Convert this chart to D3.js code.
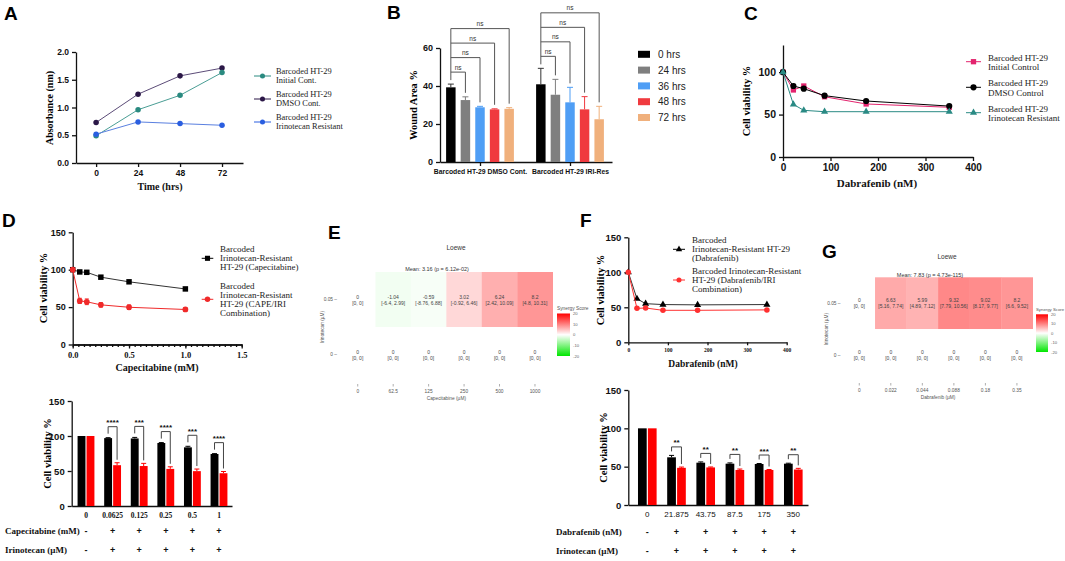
<!DOCTYPE html>
<html>
<head>
<meta charset="utf-8">
<script src="https://cdn.jsdelivr.net/npm/d3@7"></script>
<style>
  body { margin: 0; background: #fff; }
  svg { display: block; }
</style>
</head>
<body>
<script>
// --- A: absorbance over time
const timeHrs = [0, 24, 48, 72];
const absInitial = [0.49, 0.96, 1.22, 1.63];
const absDmso = [0.73, 1.24, 1.57, 1.71];
const absIri = [0.52, 0.74, 0.71, 0.68];

// --- B: wound area
const woundTimes = ["0 hrs", "24 hrs", "36 hrs", "48 hrs", "72 hrs"];
const woundGroups = ["Barcoded HT-29 DMSO Cont.", "Barcoded HT-29 IRI-Res"];
const woundDmso = [39.3, 32.6, 28.8, 27.7, 28.0];
const woundDmsoErr = [1.7, 1.7, 0.5, 0.3, 0.6];
const woundIri = [40.9, 35.4, 31.4, 27.7, 22.5];
const woundIriErr = [8.4, 8.1, 7.9, 6.7, 6.8];

// --- C: dabrafenib dose response
const dabNM = [0, 21.875, 43.75, 87.5, 175, 350];
const cInitial = [100, 79, 83.7, 71, 62.5, 58.6];
const cDmso = [100, 83.7, 80.5, 72.3, 66, 60];
const cDmsoErr = [0, 2, 1.5, 1, 0.8, 0.8];
const cIri = [100, 62, 55, 53.4, 53.4, 53.4];

// --- D: capecitabine
const capeMM = [0, 0.0625, 0.125, 0.25, 0.5, 1];
const capeLabels = ["0", "0.0625", "0.125", "0.25", "0.5", "1"];
const capeAlone = [100, 97, 96.5, 90, 83.8, 74.3];
const capeAloneErr = [0, 0.6, 1.5, 0.6, 1.5, 0.5];
const capeCombo = [100, 58.3, 57.1, 53, 49.8, 46.8];
const capeComboErr = [0, 3.5, 3.8, 3, 3, 2.5];
const capeStars = ["****", "***", "****", "***", "****"];

// --- F: dabrafenib on resistant cells
const dabLabels = ["0", "21.875", "43.75", "87.5", "175", "350"];
const dabAlone = [100, 62.2, 55.2, 53.9, 53.5, 53.9];
const dabAloneErr = [0, 2.5, 1, 1, 0.6, 0.6];
const dabCombo = [100, 48.5, 49, 45.7, 45.7, 46.3];
const dabComboErr = [0, 1, 0.6, 1.2, 0.6, 1.5];
const dabStars = ["**", "**", "**", "***", "**"];

// --- E / G: Loewe synergy
const eConc = ["0", "62.5", "125", "250", "500", "1000"];
const eScores = [0, -1.04, -0.59, 3.02, 6.24, 8.2];
const eCI = ["[0, 0]", "[-6.4, 2.99]", "[-8.76, 6.88]", "[-0.92, 6.46]", "[2.42, 10.09]", "[4.8, 10.31]"];
const gConc = ["0", "0.022", "0.044", "0.088", "0.18", "0.35"];
const gScores = [0, 6.63, 5.99, 9.32, 9.02, 8.2];
const gCI = ["[0, 0]", "[5.16, 7.74]", "[4.89, 7.12]", "[7.79, 10.56]", "[8.17, 9.77]", "[6.6, 9.52]"];
const irinoRows = ["0.05", "0"];

const SANS = "'Liberation Sans', Arial, sans-serif";
const SERIF = "'Liberation Serif', 'Times New Roman', serif";

const svg = d3.select("body").append("svg")
    .attr("width", 1065)
    .attr("height", 561)
    .attr("font-family", SANS);

function panelLabel(t, x, y) {
    svg.append("text").attr("x", x).attr("y", y).text(t)
        .attr("font-size", 19).attr("font-weight", "bold");
}

function drawAxis(axis, tx, ty, o) {
    o = o || {};
    const g = svg.append("g").attr("transform", `translate(${tx},${ty})`).call(axis);
    g.selectAll("path, line").attr("stroke", "#111").attr("stroke-width", o.sw || 1.3);
    g.selectAll("text")
        .attr("font-family", o.family || SANS)
        .attr("font-size", o.size || 9)
        .attr("font-weight", o.weight || "bold")
        .attr("fill", "#111");
    return g;
}

function baseline(x0, x1, y) {
    drawAxis(d3.axisBottom(d3.scaleLinear().range([x0, x1])).tickValues([]).tickSizeOuter(0), 0, y);
}

function text(t, x, y, o) {
    o = o || {};
    return svg.append("text").attr("x", x).attr("y", y).text(t)
        .attr("font-family", o.family || SANS)
        .attr("font-size", o.size || 9)
        .attr("font-weight", o.weight || "normal")
        .attr("text-anchor", o.anchor || "start")
        .attr("fill", o.fill || "#111");
}

function yTitle(t, x, y, size) {
    svg.append("text").attr("transform", `translate(${x},${y}) rotate(-90)`)
        .attr("text-anchor", "middle").attr("font-family", SERIF)
        .attr("font-weight", "bold").attr("font-size", size || 10.5).text(t);
}

function series(xs, ys, errs, xs_, ys_, color, sym, symSize, lineColor) {
    const pts = xs.map((x, i) => ({ x: x, y: ys[i], e: errs ? errs[i] : 0 }));
    svg.append("path").datum(pts)
        .attr("d", d3.line().x(d => xs_(d.x)).y(d => ys_(d.y)))
        .attr("fill", "none").attr("stroke", lineColor || color).attr("stroke-width", 1);
    const eg = svg.append("g").attr("stroke", color).attr("stroke-width", 1);
    pts.filter(d => d.e > 0).forEach(d => {
        const cx = xs_(d.x);
        eg.append("line").attr("x1", cx).attr("x2", cx).attr("y1", ys_(d.y - d.e)).attr("y2", ys_(d.y + d.e));
        eg.append("line").attr("x1", cx - 2).attr("x2", cx + 2).attr("y1", ys_(d.y + d.e)).attr("y2", ys_(d.y + d.e));
        eg.append("line").attr("x1", cx - 2).attr("x2", cx + 2).attr("y1", ys_(d.y - d.e)).attr("y2", ys_(d.y - d.e));
    });
    svg.append("g").selectAll("path").data(pts).join("path")
        .attr("transform", d => `translate(${xs_(d.x)},${ys_(d.y)})`)
        .attr("d", d3.symbol(sym, symSize)).attr("fill", color);
}

function legendItem(x0, x1, y, color, sym, symSize, lines, tx, firstDy, lh, fs, lineColor) {
    svg.append("line").attr("x1", x0).attr("x2", x1).attr("y1", y).attr("y2", y)
        .attr("stroke", lineColor || color).attr("stroke-width", 1);
    svg.append("path").attr("transform", `translate(${(x0 + x1) / 2},${y})`)
        .attr("d", d3.symbol(sym, symSize)).attr("fill", color);
    lines.forEach((l, i) => text(l, tx, y + firstDy + i * lh, { family: SERIF, size: fs, fill: "#222" }));
}

// ================= A =================
panelLabel("A", 4, 20);
const axA = d3.scaleLinear().domain([-11.5, 84]).range([76, 243]);
const ayA = d3.scaleLinear().domain([0, 2]).range([163, 52]);
drawAxis(d3.axisLeft(ayA).tickValues([0, 0.5, 1, 1.5, 2]).tickFormat(d3.format(".1f")).tickSize(4).tickSizeOuter(0), 76, 0, { size: 8.5 });
drawAxis(d3.axisBottom(axA).tickValues(timeHrs).tickSize(4).tickSizeOuter(0), 0, 163, { size: 8.5 });
yTitle("Absorbance (nm)", 53, 108, 10);
text("Time (hrs)", 160, 190, { family: SERIF, weight: "bold", size: 10, anchor: "middle" });
series(timeHrs, absDmso, null, axA, ayA, "#2b1747", d3.symbolCircle, 24, "#5c4c78");
series(timeHrs, absInitial, null, axA, ayA, "#2a8a80", d3.symbolCircle, 24, "#4a9e95");
series(timeHrs, absIri, null, axA, ayA, "#2a5ee0", d3.symbolCircle, 24, "#5a80e0");
legendItem(254, 271, 76, "#2a8a80", d3.symbolCircle, 20, ["Barcoded HT-29", "Initial Cont."], 276, -2, 9.3, 8.4);
legendItem(254, 271, 99, "#2b1747", d3.symbolCircle, 20, ["Barcoded HT-29", "DMSO Cont."], 276, -2, 9.3, 8.4);
legendItem(254, 271, 122, "#2a5ee0", d3.symbolCircle, 20, ["Barcoded HT-29", "Irinotecan Resistant"], 276, -2, 9.3, 8.4);

// ================= B =================
panelLabel("B", 387, 19);
const woundColors = ["#000000", "#7f7f7f", "#4f9ef5", "#f03a3f", "#f0b07c"];
const ayB = d3.scaleLinear().domain([0, 60]).range([162, 48]);
const gxB = d3.scalePoint().domain(woundGroups).range([480, 570]);
const bxB = d3.scaleBand().domain(woundTimes).range([-39, 39]).padding(0.35);
drawAxis(d3.axisLeft(ayB).tickValues([0, 20, 40, 60]).tickSize(4).tickSizeOuter(0), 440, 0, { size: 9 });
baseline(440, 612, 162);
const bxAx = drawAxis(d3.axisBottom(gxB).tickSize(4).tickSizeOuter(0), 0, 162, { size: 6.8 });
bxAx.select(".domain").remove();
yTitle("Wound Area %", 417, 105, 10.5);

[[woundDmso, woundDmsoErr], [woundIri, woundIriErr]].forEach((grp, gi) => {
    const gc = gxB(woundGroups[gi]);
    const vals = grp[0], errs = grp[1];
    woundTimes.forEach((t, i) => {
        const x = gc + bxB(t);
        const bw = bxB.bandwidth();
        svg.append("rect").attr("x", x).attr("width", bw)
            .attr("y", ayB(vals[i])).attr("height", ayB(0) - ayB(vals[i])).attr("fill", woundColors[i]);
        const cx = x + bw / 2;
        const col = i === 0 ? "#333" : woundColors[i];
        svg.append("line").attr("x1", cx).attr("x2", cx).attr("y1", ayB(vals[i])).attr("y2", ayB(vals[i] + errs[i]))
            .attr("stroke", col).attr("stroke-width", 1);
        svg.append("line").attr("x1", cx - 3).attr("x2", cx + 3).attr("y1", ayB(vals[i] + errs[i])).attr("y2", ayB(vals[i] + errs[i]))
            .attr("stroke", col).attr("stroke-width", 1);
    });
    // ns brackets from the 0 hrs bar to each later bar
    const tops = vals.map((v, i) => ayB(v + errs[i]));
    const base = ayB(d3.max(vals.map((v, i) => v + errs[i]))) - 12;
    const x0 = gc + bxB(woundTimes[0]) + bxB.bandwidth() / 2;
    const highest = base - 14.5 * 3;
    svg.append("line").attr("x1", x0).attr("x2", x0).attr("y1", highest).attr("y2", tops[0] - 4)
        .attr("stroke", "#555").attr("stroke-width", 1);
    for (let k = 1; k < woundTimes.length; k++) {
        const by = base - 14.5 * (k - 1);
        const x1 = gc + bxB(woundTimes[k]) + bxB.bandwidth() / 2;
        svg.append("path").attr("d", `M${x0},${by}H${x1}V${tops[k] - 4}`)
            .attr("fill", "none").attr("stroke", "#555").attr("stroke-width", 1);
        text("ns", (x0 + x1) / 2, by - 2.5, { size: 6.5, anchor: "middle", fill: "#333" });
    }
});
woundTimes.forEach((t, i) => {
    const y = 54.3 + i * 15.8;
    svg.append("rect").attr("x", 638).attr("y", y - 3.5).attr("width", 12).attr("height", 7).attr("fill", woundColors[i]);
    text(t, 658, y + 3.6, { size: 10, fill: "#222" });
});

// ================= C =================
panelLabel("C", 744, 20);
const axC = d3.scaleLinear().domain([0, 400]).range([783, 973]);
const ayC = d3.scaleLinear().domain([0, 132]).range([157, 45]);
drawAxis(d3.axisLeft(ayC).tickValues([0, 50, 100]).tickSize(4).tickSizeOuter(0), 783, 0, { size: 10.5 });
drawAxis(d3.axisBottom(axC).tickValues([0, 100, 200, 300, 400]).tickSize(4).tickSizeOuter(0), 0, 157, { size: 10 });
yTitle("Cell viability %", 750, 101, 10.5);
text("Dabrafenib (nM)", 877, 187, { family: SERIF, weight: "bold", size: 11, anchor: "middle" });
series(dabNM, cInitial, null, axC, ayC, "#e3246e", d3.symbolSquare, 28);
series(dabNM, cDmso, cDmsoErr, axC, ayC, "#000000", d3.symbolCircle, 30);
series(dabNM, cIri, null, axC, ayC, "#2a8a84", d3.symbolTriangle, 22);
legendItem(966, 981, 61.7, "#e3246e", d3.symbolSquare, 28, ["Barcoded HT-29", "Initial Control"], 988, -1, 9.5, 9);
legendItem(966, 981, 87.3, "#000000", d3.symbolCircle, 30, ["Barcoded HT-29", "DMSO Control"], 988, -1, 9.5, 9);
legendItem(966, 981, 112.7, "#2a8a84", d3.symbolTriangle, 22, ["Barcoded HT-29", "Irinotecan Resistant"], 988, -1, 9.5, 9);

// ================= D top =================
panelLabel("D", 2, 227);
const axD = d3.scaleLinear().domain([0, 1.5]).range([72.7, 241.7]);
const ayD = d3.scaleLinear().domain([0, 150]).range([344.5, 232.3]);
drawAxis(d3.axisLeft(ayD).tickValues([0, 50, 100, 150]).tickSize(4).tickSizeOuter(0), 72.7, 0, { size: 9 });
drawAxis(d3.axisBottom(axD).tickValues(d3.range(0, 1.501, 0.05)).tickFormat("").tickSize(2.5).tickSizeOuter(0), 0, 344.5);
drawAxis(d3.axisBottom(axD).tickValues([0, 0.5, 1, 1.5]).tickFormat(d3.format(".1f")).tickSize(4).tickSizeOuter(0), 0, 344.5,
    { family: SERIF, size: 8.5 });
yTitle("Cell viability %", 47, 288, 10.5);
text("Capecitabine (mM)", 157, 371, { family: SERIF, weight: "bold", size: 10, anchor: "middle" });
series(capeMM, capeAlone, null, axD, ayD, "#000000", d3.symbolSquare, 30, "#333");
series(capeMM, capeCombo, capeComboErr, axD, ayD, "#f02a2a", d3.symbolCircle, 26);
legendItem(201.7, 213.3, 258.3, "#000000", d3.symbolSquare, 26,
    ["Barcoded", "Irinotecan-Resistant", "HT-29 (Capecitabine)"], 220, -6, 8.7, 9);
legendItem(201.7, 213.3, 299.3, "#f02a2a", d3.symbolCircle, 24,
    ["Barcoded", "Irinotecan-Resistant", "HT-29 (CAPE/IRI", "Combination)"], 220, -10.5, 9, 9);

// ================= paired bar charts (D bottom, F bottom) =================
function pairedBars(o) {
    const y = d3.scaleLinear().domain([0, 150]).range([o.y0, o.y1]);
    const x = d3.scalePoint().domain(o.labels).range(o.xr);
    const inner = d3.scaleBand().domain(["alone", "combo"]).range([-o.half, o.half]).padding(o.pad);
    drawAxis(d3.axisLeft(y).tickValues([0, 50, 100, 150]).tickSize(4).tickSizeOuter(0), o.ax, 0, { size: 9.5 });
    baseline(o.ax, o.axEnd, o.y0);
    const rows = o.labels.map((l, i) => ({ l: l, alone: o.alone[i], ae: o.aloneErr[i], combo: o.combo[i], ce: o.comboErr[i] }));
    rows.forEach(r => {
        [["alone", r.alone, r.ae, "#000"], ["combo", r.combo, r.ce, "#ff0000"]].forEach(b => {
            const bx = x(r.l) + inner(b[0]);
            const bw = inner.bandwidth();
            svg.append("rect").attr("x", bx).attr("width", bw).attr("y", y(b[1]))
                .attr("height", y(0) - y(b[1])).attr("fill", b[3]);
            if (b[2] > 0) {
                const cx = bx + bw / 2;
                svg.append("path").attr("d", `M${cx},${y(b[1])}V${y(b[1] + b[2])}M${cx - 2.5},${y(b[1] + b[2])}H${cx + 2.5}`)
                    .attr("stroke", b[3]).attr("stroke-width", 1).attr("fill", "none");
            }
        });
        text(r.l, x(r.l), o.y0 + 11.5, { family: o.tickFamily, weight: o.tickWeight, size: o.tickSize, anchor: "middle" });
    });
    rows.slice(1).forEach((r, i) => {
        const xa = x(r.l) + inner("alone") + inner.bandwidth() / 2;
        const xc = x(r.l) + inner("combo") + inner.bandwidth() / 2;
        const by = y(r.alone + r.ae) - o.gap;
        svg.append("path").attr("d", `M${xa},${y(r.alone + r.ae) - 4}V${by}H${xc}V${y(r.combo + r.ce) - 3}`)
            .attr("fill", "none").attr("stroke", "#444").attr("stroke-width", 1);
        text(o.stars[i], (xa + xc) / 2, by - 1.5, { size: 8, weight: "bold", anchor: "middle" });
    });
    yTitle("Cell viability %", o.titleX, (o.y0 + o.y1) / 2, 10.5);
    o.rowNames.forEach((n, k) => {
        const ry = o.rowY + k * 18.5;
        text(n, o.rowX, ry, { family: SERIF, weight: "bold", size: 9 });
        o.labels.forEach((l, i) => text(i === 0 ? "-" : "+", x(l), ry, { size: 9, anchor: "middle", weight: "bold" }));
    });
}

pairedBars({
    labels: capeLabels, alone: capeAlone, aloneErr: capeAloneErr, combo: capeCombo, comboErr: capeComboErr,
    stars: capeStars, y0: 506, y1: 401, xr: [86, 219], half: 9.5, pad: 0.12, ax: 71.7, axEnd: 232,
    gap: 11, titleX: 51, tickFamily: SERIF, tickWeight: "bold", tickSize: 7.5,
    rowNames: ["Capecitabine (mM)", "Irinotecan (\u00b5M)"], rowX: 5, rowY: 534
});

// ================= F =================
panelLabel("F", 580, 227);
const axF = d3.scaleLinear().domain([0, 400]).range([628.3, 786.7]);
const ayF = d3.scaleLinear().domain([0, 150]).range([342.3, 237.3]);
drawAxis(d3.axisLeft(ayF).tickValues([0, 50, 100, 150]).tickSize(4).tickSizeOuter(0), 628.3, 0, { size: 9.5 });
drawAxis(d3.axisBottom(axF).tickValues([0, 100, 200, 300, 400]).tickSize(3).tickSizeOuter(0), 0, 342.3,
    { family: SERIF, size: 5.5 });
yTitle("Cell viability %", 604, 290, 10.5);
text("Dabrafenib (nM)", 703, 367, { family: SERIF, weight: "bold", size: 9.5, anchor: "middle" });
series(dabNM, dabAlone, null, axF, ayF, "#000000", d3.symbolTriangle, 22, "#333");
series(dabNM, dabCombo, null, axF, ayF, "#ff3030", d3.symbolCircle, 24);
legendItem(673, 685, 249.3, "#000000", d3.symbolTriangle, 18,
    ["Barcoded", "Irinotecan-Resistant HT-29", "(Dabrafenib)"], 692, -6.3, 9.2, 9);
legendItem(673, 685, 280, "#ff3030", d3.symbolCircle, 20,
    ["Barcoded Irinotecan-Resistant", "HT-29 (Dabrafenib/IRI", "Combination)"], 692, -6, 9.2, 9);

pairedBars({
    labels: dabLabels, alone: dabAlone, aloneErr: dabAloneErr, combo: dabCombo, comboErr: dabComboErr,
    stars: dabStars, y0: 505, y1: 390, xr: [647.3, 793.3], half: 10.5, pad: 0.12, ax: 628.3, axEnd: 808,
    gap: 8.5, titleX: 607, tickFamily: SANS, tickWeight: "normal", tickSize: 8,
    rowNames: ["Dabrafenib (nM)", "Irinotecan (\u00b5M)"], rowX: 556, rowY: 535
});

// ================= heatmaps (E, G) =================
const synergyColor = d3.scaleLinear().domain([-20, 0, 20]).range(["#00e600", "#ffffff", "#ff0000"]);
let gradId = 0;

function heatmap(o) {
    const x = d3.scaleBand().domain(o.conc).range(o.xr);
    const y = d3.scaleBand().domain(irinoRows).range(o.yr);
    const cells = [];
    irinoRows.forEach((r, ri) => o.conc.forEach((c, ci) => {
        cells.push({ r: r, c: c, v: ri === 0 ? o.scores[ci] : 0, ci: ri === 0 ? o.ci[ci] : "[0, 0]" });
    }));
    svg.append("g").selectAll("rect").data(cells).join("rect")
        .attr("x", d => x(d.c)).attr("y", d => y(d.r))
        .attr("width", x.bandwidth() + 0.3).attr("height", y.bandwidth())
        .attr("fill", d => synergyColor(d.v));
    cells.forEach(d => {
        const cx = x(d.c) + x.bandwidth() / 2, cy = y(d.r) + y.bandwidth() / 2;
        text(String(d.v), cx, cy - 1, { size: 5, anchor: "middle", fill: "#444" });
        text(d.ci, cx, cy + 5, { size: 5, anchor: "middle", fill: "#444" });
    });
    // y axis
    irinoRows.forEach(r => {
        const cy = y(r) + y.bandwidth() / 2;
        text(r + " \u2013", o.xr[0] - 3, cy + 1.7, { size: 4.8, anchor: "end", fill: "#555" });
    });
    svg.append("text").attr("transform", `translate(${o.xr[0] - 16},${(o.yr[0] + o.yr[1]) / 2}) rotate(-90)`)
        .attr("text-anchor", "middle").attr("font-size", 4.8).attr("fill", "#555").text("Irinotecan (\u00b5M)");
    // x axis
    o.conc.forEach(c => {
        const cx = x(c) + x.bandwidth() / 2;
        svg.append("line").attr("x1", cx).attr("x2", cx).attr("y1", o.yr[1] + 2).attr("y2", o.yr[1] + 4.5)
            .attr("stroke", "#777").attr("stroke-width", 0.6);
        text(c, cx, o.yr[1] + 11, { size: 4.8, anchor: "middle", fill: "#555" });
    });
    text(o.xTitle, (o.xr[0] + o.xr[1]) / 2, o.yr[1] + 18, { size: 4.8, anchor: "middle", fill: "#555" });
    text("Loewe", o.titleX, o.titleY, { size: 6.5, anchor: "middle", fill: "#333" });
    text(o.mean, o.meanX, o.meanY, { size: 5.5, anchor: "middle", fill: "#333" });
    // legend
    const id = "grad" + (gradId++);
    const lg = svg.append("defs").append("linearGradient").attr("id", id)
        .attr("x1", 0).attr("x2", 0).attr("y1", 0).attr("y2", 1);
    [20, 10, 0, -10, -20].forEach((v, i) => lg.append("stop").attr("offset", i / 4).attr("stop-color", synergyColor(v)));
    const ly = d3.scaleLinear().domain([-20, 20]).range([o.legY1, o.legY0]);
    text("Synergy Score", o.legX, o.legY0 - 3.5, { size: o.legFs || 4.8, fill: "#555" });
    svg.append("rect").attr("x", o.legX).attr("y", o.legY0).attr("width", o.legW).attr("height", o.legY1 - o.legY0)
        .attr("fill", `url(#${id})`);
    [20, 10, 0, -10, -20].forEach(v => text(String(v), o.legX + o.legW + 3, ly(v) + 1.6, { size: 4.2, fill: "#666" }));
}

panelLabel("E", 328, 239);
heatmap({
    conc: eConc, scores: eScores, ci: eCI, xr: [340, 552.7], yr: [272, 382],
    xTitle: "Capecitabine (\u00b5M)", titleX: 456, titleY: 250, mean: "Mean: 3.16 (p = 6.12e-02)", meanX: 437, meanY: 271,
    legX: 557, legW: 13, legY0: 313.5, legY1: 356
});

panelLabel("G", 822, 258);
heatmap({
    conc: gConc, scores: gScores, ci: gCI, xr: [843.5, 1032.7], yr: [277.3, 381],
    xTitle: "Dabrafenib (\u00b5M)", titleX: 947, titleY: 259, mean: "Mean: 7.83 (p = 4.73e-115)", meanX: 930, meanY: 277,
    legX: 1036, legW: 12, legY0: 314.3, legY1: 352, legFs: 4.3
});
</script>
</body>
</html>
